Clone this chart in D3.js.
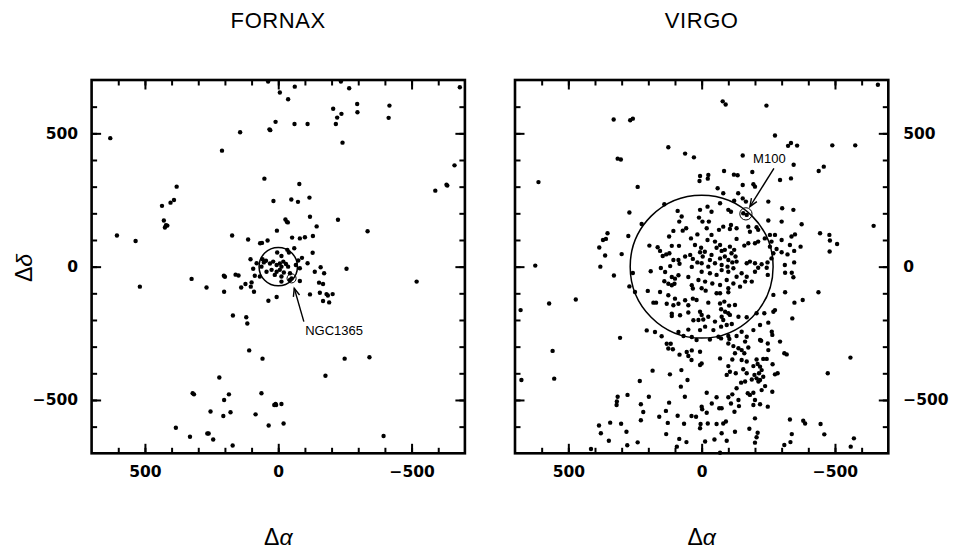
<!DOCTYPE html>
<html><head><meta charset="utf-8">
<script src="https://cdn.jsdelivr.net/npm/d3@7"></script>
<style>body{margin:0;background:#fff}</style>
</head><body>
<svg id="chart" width="953" height="551"></svg>
<script>
// ---------- data ----------
const axisDomain = [700, -700];
const tickValues = [-600,-500,-400,-300,-200,-100,0,100,200,300,400,500,600];
const majorTickValues = [-500, 0, 500];
const tickLabelText = {"500":"500","0":"0","-500":"\u2212500"};
const panelTitles = ["FORNAX", "VIRGO"];
const xAxisTitle = ["\u0394", "\u03b1"];
const yAxisTitle = ["\u0394", "\u03b4"];

// [Δα, Δδ]
const fornaxPoints = [
[38,694],[-6,653],[-62,675],[-37,628],[-235,694],[-266,669],[-681,673],[-206,592],[-237,573],[-221,559],
[-296,610],[-297,579],[-417,604],[-414,558],[-216,535],[-241,465],[-61,535],[-110,535],[10,543],[33,515],
[30,512],[143,504],[630,482],[211,435],[-661,380],[-631,307],[-634,304],[-589,285],[381,300],[391,250],
[404,240],[436,228],[429,173],[421,155],[416,154],[425,147],[605,117],[535,96],[52,330],[-79,310],
[18,246],[-49,252],[-74,243],[-117,259],[-119,187],[-27,177],[-32,168],[-36,166],[-224,176],[-144,151],
[-335,133],[5,135],[173,117],[113,102],[68,88],[61,89],[40,98],[-52,109],[-81,106],[-100,110],
[-130,115],[-60,69],[-129,52],[104,28],[81,13],[59,28],[54,16],[46,22],[4,53],[-12,40],
[-34,63],[-40,53],[-75,23],[-89,33],[-110,13],[-159,-2],[-256,-8],[94,-8],
[31,12],[19,19],[6,6],[-6,12],[-12,0],[-19,19],[-29,10],[-37,0],[25,-12],[6,-19],
[44,-19],[63,0],[-6,-12],[-21,-22],[-44,-25],[-81,-6],[-66,6],[13,-31],[-12,-37],[69,-37],
[-50,-44],[-44,-50],[-81,-54],
[-172,-25],[-137,-19],[-519,-56],[519,-75],[325,-46],[269,-78],[204,-34],[200,-38],[160,-30],[149,-33],
[123,-65],[100,-59],[103,-75],[91,-94],[88,-34],[203,-94],[139,-78],[37,-128],[6,-114],[-12,-56],
[-119,-104],[-153,-60],[-168,-65],[-156,-98],[-181,-103],[-186,-108],[-204,-103],[-168,-129],[-191,-134],[170,-183],
[120,-190],[116,-213],[109,-314],[59,-345],[-177,-409],[-249,-345],[-342,-340],[221,-416],[321,-475],[316,-479],
[185,-479],[203,-500],[63,-475],[15,-519],[8,-519],[10,-515],[-12,-515],[254,-543],[206,-560],[179,-546],
[85,-554],[36,-596],[-20,-588],[384,-604],[331,-638],[266,-626],[261,-626],[244,-648],[171,-671],[-395,-635]
];

const virgoPoints = [
// upper left
[330,552],[268,549],[258,555],[315,405],[303,402],[612,317],[125,448],[62,424],[29,410],[353,125],
[359,104],[370,100],[384,72],[362,42],[624,4],[380,0],
// upper right
[-79,620],[-90,608],[-243,604],[-661,682],[-275,492],[-324,453],[-335,464],[-358,454],[-490,455],[-576,455],
[-154,417],[-345,382],[-439,359],[-458,375],[-84,359],[-190,355],[-121,345],[-135,343],[-25,344],[-23,330],
[-375,159],[-645,153],[-444,125],[-479,119],[-481,98],[-508,85],[-480,57],[-371,75],
// centre, north-east
[6,340],[8,321],[240,299],[271,203],[225,160],[275,115],[300,47],[140,234],[90,209],[75,188],
[6,213],[10,184],[-3,169],[84,169],[58,144],[71,135],[106,134],[122,113],[40,106],[16,121],
[196,79],[165,73],[156,59],[146,40],[133,46],[121,50],[112,78],[85,78],[106,25],[87,25],
[62,38],[43,44],[33,29],[25,81],[2,71],[6,54],[-4,38],[16,16],[0,13],
// centre, north-west
[-154,306],[-194,309],[-200,300],[-60,294],[-81,275],[-137,275],[-154,256],[-166,244],[-122,247],[-294,325],
[-335,331],[-250,244],[-302,219],[-344,213],[-300,169],[-22,225],[-37,206],[-69,238],[-100,213],[-110,206],
[-156,200],[-169,194],[-27,169],[-19,144],[-81,150],[-110,156],[-131,144],[-106,141],[-175,150],[-212,138],
[-250,173],[-181,131],[-206,148],[-37,119],[-65,138],[-50,94],[-22,100],[-131,104],[-160,79],[-175,88],
[-200,88],[-212,94],[-237,106],[-256,119],[-262,94],[-275,119],[-300,100],[-337,113],[-350,121],[-331,81],
[-281,66],[-256,75],[-269,50],[-300,54],[-322,46],[-347,59],[-56,71],[-69,81],[-75,59],[-87,63],
[-106,75],[-112,50],[-122,63],[-127,38],[-87,38],[-69,31],[-100,25],[-115,16],[-131,19],[-37,44],
[-31,25],[-50,13],[-75,6],[-97,0],[-119,-6],[-25,0],[-169,13],[-181,19],[-200,13],[-225,9],
[-247,16],[-262,31],[-312,6],[-347,16],[-212,-4],[-244,-4],[-12,56],
// centre, south-east
[258,-24],[271,-74],[250,-95],[191,-17],[202,-91],[181,-135],[171,-135],[153,-5],[137,-20],[118,2],
[112,-39],[100,-45],[140,-55],[125,-64],[112,-70],[102,-64],[87,-32],[83,11],[50,-39],[37,-1],
[37,-70],[33,-82],[156,-95],[125,-107],[100,-120],[87,-139],[106,-145],[62,-126],[50,-145],[33,-120],
[131,-139],[112,-176],[112,-185],[81,-182],[50,-172],[31,-201],[206,-239],[175,-245],[150,-261],[87,-245],
[50,-236],[68,-260],[37,-264],[131,-289],[116,-289],[125,-307],[108,-310],[83,-330],[56,-320],[37,-314],
[50,-335],[306,-267],
// lower left
[329,-33],[572,-138],[472,-123],[679,-163],[559,-316],[676,-425],[553,-420],[38,-350],[184,-390],[119,-404],
[76,-388],[53,-425],[232,-429],[78,-450],[315,-488],[318,-506],[319,-519],[278,-481],[198,-488],[122,-510],
[63,-488],[228,-516],[219,-545],[159,-563],[134,-541],[90,-559],[38,-560],[228,-576],[127,-586],[66,-589],
[385,-596],[378,-625],[343,-585],[302,-589],[348,-653],[282,-619],[279,-670],[240,-659],[133,-628],[84,-646],
[93,-675],[57,-658],[415,-684],
// lower right
[-313,-23],[-338,-23],[-344,-40],[-248,-31],[0,-19],[-31,-25],[-56,-31],[-75,-13],[-100,-19],[-131,-38],
[-150,-25],[-169,-38],[-163,-56],[-188,-56],[-200,-19],[12,-50],[-13,-56],[-40,-63],[-69,-69],[-94,-50],
[-119,-63],[-144,-75],[0,-81],[-15,-90],[-56,-100],[-69,-100],[-100,-81],[-100,-96],[19,-125],[-25,-135],
[-69,-138],[-85,-131],[-103,-146],[-125,-144],[-73,-160],[-88,-169],[-100,-175],[6,-169],[0,-181],[-6,-198],
[12,-200],[-25,-188],[-50,-206],[-75,-188],[-81,-200],[-106,-181],[-94,-219],[-113,-215],[-73,-225],[-13,-225],
[-44,-238],[-138,-188],[-169,-190],[-206,-175],[-235,-175],[-250,-210],[-269,-169],[-275,-163],[-269,-106],[-313,-96],
[-348,-135],[-379,-125],[-438,-96],[-340,-194],[-219,-219],[6,-238],[-63,-263],[-73,-269],[-31,-273],[-100,-260],
[-104,-271],[-131,-260],[-150,-244],[-169,-263],[-194,-238],[-263,-244],[-265,-256],[-294,-281],[-219,-275],[-223,-278],
[-248,-288],[6,-319],[19,-275],[-100,-288],[-119,-298],[-138,-306],[-150,-313],[-160,-325],[-175,-303],[-125,-325],
[-163,-281],[-250,-313],[-310,-325],[-319,-329],[-69,-344],[-115,-348],[-150,-350],[-169,-356],[-206,-348],[-231,-346],
[-244,-346],[-210,-365],[-219,-375],[-225,-388],[-215,-400],[-194,-373],[-156,-385],[-169,-400],[-100,-373],[-106,-394],
[-128,-400],[-94,-406],[-266,-366],[-275,-404],[-285,-400],[6,-369],[0,-363],[-198,-406],[-206,-419],[-219,-425],
[-231,-413],[-213,-431],[-188,-423],[-163,-431],[-148,-435],[-131,-456],[-115,-479],[-100,-490],[-173,-475],[-181,-481],
[-194,-473],[-225,-463],[-238,-448],[-265,-469],[-200,-500],[-194,-519],[-219,-516],[-248,-525],[-138,-500],[-140,-523],
[-110,-513],[-123,-544],[-19,-473],[-56,-490],[-38,-513],[0,-525],[-2,-535],[-19,-548],[-66,-531],[-75,-531],
[21,-563],[-200,-569],[-331,-573],[-381,-578],[-388,-588],[-446,-590],[-460,-629],[-338,-628],[-333,-658],[-310,-669],
[-179,-608],[-210,-623],[-206,-640],[-200,-660],[-125,-619],[-94,-653],[-75,-625],[-91,-581],[-81,-588],[-56,-590],
[-23,-588],[4,-590],[6,-606],[-13,-656],[-48,-648],[-69,-698],[-558,-341],[-473,-400],[-559,-675],[-571,-644]
];

// cluster circles and marked galaxies [Δα, Δδ, radius]
const fornaxCircle = [0, 0, 72];
const virgoCircle = [0, 0, 268];
const fornaxMark = {name: "NGC1365", ring: [-50, -44, 17], tail: [-96, -206], head: [-60, -81], label: [-101, -256]};
const virgoMark  = {name: "M100",    ring: [-166, 198, 23], tail: [-271, 369], head: [-181, 225], label: [-193, 389]};

// ---------- drawing ----------
const svg = d3.select("#chart");
const W = 373.3, TOP = 80;
const panels = [
  {x0: 91.6, title: panelTitles[0], pts: fornaxPoints, circle: fornaxCircle, mark: fornaxMark, ySide: "left"},
  {x0: 515.0, title: panelTitles[1], pts: virgoPoints, circle: virgoCircle, mark: virgoMark, ySide: "right"}
];

svg.append("defs").append("marker")
  .attr("id","arr").attr("viewBox","-10 -5 12 10").attr("refX",0).attr("refY",0)
  .attr("markerWidth",12).attr("markerHeight",10).attr("markerUnits","userSpaceOnUse").attr("orient","auto")
  .append("path").attr("d","M-8,-3.2 L0,0 L-8,3.2").attr("fill","none").attr("stroke","#000").attr("stroke-width",1.4);

const labelFont = "'DejaVu Sans', sans-serif";

panels.forEach(p => {
  const x = d3.scaleLinear().domain(axisDomain).range([p.x0, p.x0 + W]);
  const y = d3.scaleLinear().domain(axisDomain).range([TOP, TOP + W]);
  const kx = Math.abs(x(1) - x(0));
  const g = svg.append("g");

  // minor ticks on all sides (inward)
  const mk = (axis, tr) => {
    const a = g.append("g").attr("transform", tr).call(axis);
    a.select(".domain").remove();
    a.selectAll("line").attr("stroke", "#000").attr("stroke-width", 2);
    return a;
  };
  mk(d3.axisBottom(x).tickValues(tickValues).tickSize(-5.5).tickFormat(""), `translate(0,${TOP+W})`);
  mk(d3.axisTop(x).tickValues(tickValues).tickSize(-5.5).tickFormat(""), `translate(0,${TOP})`);
  mk(d3.axisLeft(y).tickValues(tickValues).tickSize(-5.5).tickFormat(""), `translate(${p.x0},0)`);
  mk(d3.axisRight(y).tickValues(tickValues).tickSize(-5.5).tickFormat(""), `translate(${p.x0+W},0)`);
  // major ticks
  const fmt = d => tickLabelText[String(d)];
  const bx = mk(d3.axisBottom(x).tickValues(majorTickValues).tickSize(-9.5).tickPadding(12.5).tickFormat(fmt), `translate(0,${TOP+W})`);
  mk(d3.axisTop(x).tickValues(majorTickValues).tickSize(-9.5).tickFormat(""), `translate(0,${TOP})`);
  let yl;
  if (p.ySide === "left") {
    yl = mk(d3.axisLeft(y).tickValues(majorTickValues).tickSize(-9.5).tickPadding(13.5).tickFormat(fmt), `translate(${p.x0},0)`);
    mk(d3.axisRight(y).tickValues(majorTickValues).tickSize(-9.5).tickFormat(""), `translate(${p.x0+W},0)`);
  } else {
    yl = mk(d3.axisRight(y).tickValues(majorTickValues).tickSize(-9.5).tickPadding(15).tickFormat(fmt), `translate(${p.x0+W},0)`);
    mk(d3.axisLeft(y).tickValues(majorTickValues).tickSize(-9.5).tickFormat(""), `translate(${p.x0},0)`);
  }
  [bx, yl].forEach(a => a.selectAll("text").attr("font-family", labelFont).attr("font-weight", "bold")
      .attr("font-size", 15.5).attr("fill", "#000"));

  // frame
  g.append("rect").attr("x", p.x0).attr("y", TOP).attr("width", W).attr("height", W)
    .attr("fill", "none").attr("stroke", "#000").attr("stroke-width", 2.6);

  // cluster circle
  g.append("circle").attr("cx", x(p.circle[0])).attr("cy", y(p.circle[1])).attr("r", p.circle[2] * kx)
    .attr("fill", "none").attr("stroke", "#000").attr("stroke-width", 1.5);

  // points
  g.append("g").selectAll("circle").data(p.pts).join("circle")
    .attr("cx", d => x(d[0])).attr("cy", d => y(d[1])).attr("r", 2.2).attr("fill", "#000");

  // marked galaxy
  const m = p.mark;
  g.append("circle").attr("cx", x(m.ring[0])).attr("cy", y(m.ring[1])).attr("r", m.ring[2] * kx)
    .attr("fill", "none").attr("stroke", "#000").attr("stroke-width", 1);
  g.append("line").attr("x1", x(m.tail[0])).attr("y1", y(m.tail[1])).attr("x2", x(m.head[0])).attr("y2", y(m.head[1]))
    .attr("stroke", "#000").attr("stroke-width", 1.4).attr("marker-end", "url(#arr)");
  g.append("text").attr("x", x(m.label[0])).attr("y", y(m.label[1])).text(m.name)
    .attr("font-family", "'Liberation Sans', Arial, sans-serif").attr("font-size", 13).attr("fill", "#000");

  // title
  svg.append("text").attr("x", x(0)).attr("y", 28).attr("text-anchor", "middle").text(p.title)
    .attr("font-family", "'Liberation Sans', Arial, sans-serif").attr("font-size", 22)
    .attr("letter-spacing", 0.6).attr("fill", "#000");

  // x axis title
  const xt = svg.append("text").attr("x", x(0)).attr("y", 545).attr("text-anchor", "middle")
    .attr("font-family", "'Liberation Sans', Arial, sans-serif").attr("font-size", 23).attr("fill", "#000");
  xt.append("tspan").text(xAxisTitle[0]);
  xt.append("tspan").attr("font-style", "italic").text(xAxisTitle[1]);
});

// y axis title (left panel)
const yt = svg.append("text").attr("transform", "translate(32,268) rotate(-90)").attr("text-anchor", "middle")
  .attr("font-family", "'Liberation Sans', Arial, sans-serif").attr("font-size", 23).attr("fill", "#000");
yt.append("tspan").text(yAxisTitle[0]);
yt.append("tspan").attr("font-style", "italic").text(yAxisTitle[1]);
</script>
</body></html>
